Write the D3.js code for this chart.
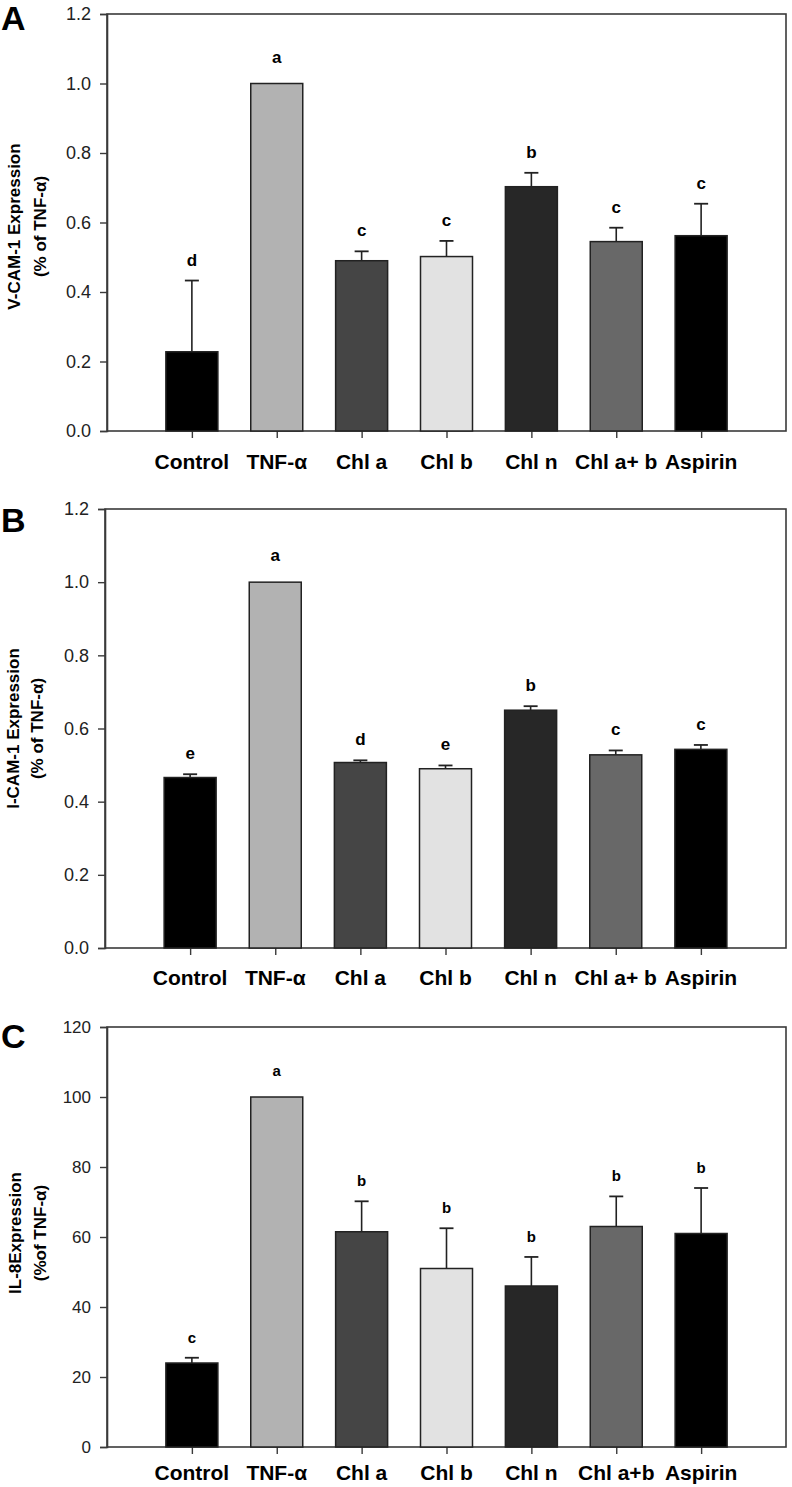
<!DOCTYPE html>
<html><head><meta charset="utf-8">
<script src="https://cdn.jsdelivr.net/npm/d3@7"></script>
<style>
html,body{margin:0;padding:0;background:#fff;}
svg{display:block;font-family:"Liberation Sans",Arial,sans-serif;}
</style></head>
<body>
<svg id="chart" width="792" height="1487"></svg>
<script>
// ---- data ----
const categories  = ["Control","TNF-α","Chl a","Chl b","Chl n","Chl a+ b","Aspirin"];
const categoriesC = ["Control","TNF-α","Chl a","Chl b","Chl n","Chl a+b","Aspirin"];
const barColors   = ["#000000","#b2b2b2","#454545","#e2e2e2","#272727","#686868","#000000"];

const vcamMeans   = [0.228, 1.0, 0.490, 0.502, 0.703, 0.545, 0.562];
const vcamErr     = [0.205, 0, 0.027, 0.045, 0.040, 0.040, 0.092];
const vcamLetters = ["d","a","c","c","b","c","c"];

const icamMeans   = [0.466, 1.0, 0.507, 0.490, 0.650, 0.528, 0.543];
const icamErr     = [0.009, 0, 0.006, 0.009, 0.011, 0.012, 0.012];
const icamLetters = ["e","a","d","e","b","c","c"];

const il8Means    = [24, 100, 61.5, 51, 46, 63, 61];
const il8Err      = [1.5, 0, 8.7, 11.5, 8.3, 8.6, 13];
const il8Letters  = ["c","a","b","b","b","b","b"];

const ticksAB = [0, 0.2, 0.4, 0.6, 0.8, 1.0, 1.2];
const ticksC  = [0, 20, 40, 60, 80, 100, 120];

const svg = d3.select("#chart");

function panel(cfg){
  const g = svg.append("g");
  const x = d3.scalePoint().domain(cfg.cats).range([cfg.left, cfg.right]).padding(1);
  const y = d3.scaleLinear().domain([0, cfg.max]).range([cfg.bottom, cfg.top]);
  const bw = 52;

  // frame
  g.append("rect").attr("x", cfg.left).attr("y", cfg.top)
    .attr("width", cfg.right - cfg.left).attr("height", cfg.bottom - cfg.top)
    .attr("fill","none").attr("stroke","#3a3a3a").attr("stroke-width",1.6);

  // y axis
  const ya = g.append("g").attr("transform",`translate(${cfg.left},0)`)
    .call(d3.axisLeft(y).tickValues(cfg.ticks).tickSize(7).tickPadding(9).tickFormat(cfg.fmt));
  ya.select(".domain").attr("stroke","#3a3a3a").attr("stroke-width",1.6);
  ya.selectAll(".tick line").attr("stroke","#3a3a3a").attr("stroke-width",1.4);
  ya.selectAll(".tick text").attr("font-size",cfg.tickFont).attr("fill","#222")
    .attr("font-family","'Liberation Sans',Arial,sans-serif");

  // x axis ticks
  const xa = g.append("g").attr("transform",`translate(0,${cfg.bottom})`)
    .call(d3.axisBottom(x).tickSize(7).tickPadding(0).tickFormat(""));
  xa.select(".domain").remove();
  xa.selectAll(".tick line").attr("stroke","#3a3a3a").attr("stroke-width",1.4);

  // category labels
  g.selectAll("text.cat").data(cfg.cats).enter().append("text")
    .attr("class","cat").attr("x", d => x(d)).attr("y", cfg.bottom + cfg.labelDy)
    .attr("text-anchor","middle").attr("font-size",cfg.catFont).attr("font-weight","bold")
    .attr("fill","#000").text(d => d);

  const data = cfg.cats.map((c,i)=>({c, v:cfg.means[i], e:cfg.errs[i], l:cfg.letters[i], col:barColors[i]}));

  // error bars (upward only)
  const eb = g.selectAll("g.err").data(data.filter(d=>d.e>0)).enter().append("g");
  eb.append("line").attr("x1",d=>x(d.c)).attr("x2",d=>x(d.c))
    .attr("y1",d=>y(d.v)).attr("y2",d=>y(d.v+d.e)).attr("stroke","#222").attr("stroke-width",1.6);
  eb.append("line").attr("x1",d=>x(d.c)-7).attr("x2",d=>x(d.c)+7)
    .attr("y1",d=>y(d.v+d.e)).attr("y2",d=>y(d.v+d.e)).attr("stroke","#222").attr("stroke-width",1.8);

  // bars
  g.selectAll("rect.bar").data(data).enter().append("rect")
    .attr("class","bar").attr("x",d=>x(d.c)-bw/2).attr("y",d=>y(d.v))
    .attr("width",bw).attr("height",d=>cfg.bottom - y(d.v))
    .attr("fill",d=>d.col).attr("stroke","#222").attr("stroke-width",1.5);

  // significance letters
  g.selectAll("text.sig").data(data).enter().append("text")
    .attr("class","sig").attr("x",d=>x(d.c)).attr("y",d=>y(d.v+d.e) - (d.e>0?15:21))
    .attr("text-anchor","middle").attr("font-size",cfg.letterFont).attr("font-weight","bold")
    .attr("fill","#000").text(d=>d.l);

  // panel letter
  g.append("text").attr("x",1).attr("y",cfg.top + cfg.panelDy).attr("font-size",34)
    .attr("font-weight","bold").attr("fill","#000").text(cfg.panel);

  // y title
  const cy = (cfg.top + cfg.bottom)/2 + cfg.titleDy;
  cfg.titles.forEach((t,i)=>{
    g.append("text").attr("transform",`translate(${cfg.titleX[i]},${cy}) rotate(-90)`)
      .attr("text-anchor","middle").attr("font-size",cfg.titleFont).attr("font-weight","bold")
      .attr("fill","#000").text(t);
  });
}

panel({panel:"A", cats:categories, means:vcamMeans, errs:vcamErr, letters:vcamLetters,
  left:107, right:786, top:14, bottom:431, max:1.2, ticks:ticksAB, fmt:d3.format(".1f"),
  tickFont:18, letterFont:17, catFont:21, labelDy:38, panelDy:16,
  titles:["V-CAM-1 Expression","(% of TNF-α)"], titleX:[20,46], titleFont:17, titleDy:4});

panel({panel:"B", cats:categories, means:icamMeans, errs:icamErr, letters:icamLetters,
  left:105, right:786, top:509, bottom:948, max:1.2, ticks:ticksAB, fmt:d3.format(".1f"),
  tickFont:18, letterFont:17, catFont:21, labelDy:37, panelDy:23,
  titles:["I-CAM-1 Expression","(% of TNF-α)"], titleX:[19,43], titleFont:17, titleDy:0});

panel({panel:"C", cats:categoriesC, means:il8Means, errs:il8Err, letters:il8Letters,
  left:107, right:786, top:1027, bottom:1447, max:120, ticks:ticksC, fmt:d3.format("d"),
  tickFont:17, letterFont:15, catFont:21, labelDy:33, panelDy:21,
  titles:["IL-8Expression","(%of TNF-α)"], titleX:[21,46], titleFont:17, titleDy:-4});
</script>
</body></html>
